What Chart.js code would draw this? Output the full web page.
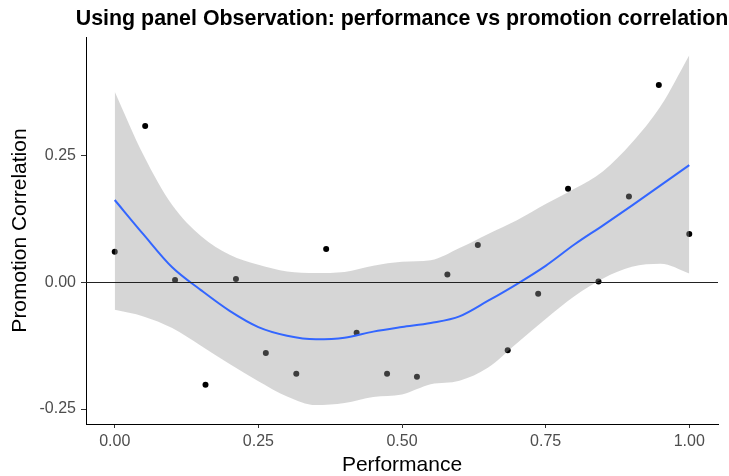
<!DOCTYPE html>
<html>
<head>
<meta charset="utf-8">
<script src="https://cdn.jsdelivr.net/npm/chart.js@4/dist/chart.umd.min.js"></script>
<style>
html, body { margin: 0; padding: 0; background: #fff; }
</style>
</head>
<body>
<canvas id="grafico" width="729" height="476"></canvas>
<script>
// observed points
const performance = [0, 0.053, 0.105, 0.158, 0.211, 0.263, 0.316, 0.368, 0.421, 0.474,
    0.526, 0.579, 0.632, 0.684, 0.737, 0.789, 0.842, 0.895, 0.947, 1];
const promotionCorr = [0.061, 0.309, 0.005, -0.202, 0.007, -0.139, -0.180, 0.066, -0.099, -0.180,
    -0.186, 0.016, 0.074, -0.134, -0.022, 0.185, 0.002, 0.170, 0.390, 0.096];

// loess fit and its confidence band
const fitX = [0, 0.05, 0.1, 0.15, 0.2, 0.25, 0.3, 0.35, 0.4, 0.45, 0.5,
    0.55, 0.6, 0.65, 0.7, 0.75, 0.8, 0.85, 0.9, 0.95, 1];
const fitY = [0.163, 0.095, 0.030, -0.015, -0.056, -0.088, -0.105, -0.112, -0.109, -0.097, -0.088,
    -0.080, -0.067, -0.036, -0.003, 0.033, 0.075, 0.113, 0.152, 0.192, 0.232];
const bandHigh = [0.377, 0.252, 0.153, 0.092, 0.055, 0.035, 0.022, 0.019, 0.021, 0.033, 0.041,
    0.044, 0.068, 0.096, 0.123, 0.155, 0.185, 0.220, 0.276, 0.348, 0.449];
const bandLow = [-0.054, -0.067, -0.090, -0.125, -0.161, -0.195, -0.225, -0.242, -0.238, -0.226, -0.221,
    -0.201, -0.194, -0.168, -0.120, -0.072, -0.027, 0.008, 0.031, 0.037, 0.018];

const xTicks = [0, 0.25, 0.5, 0.75, 1];
const yTicks = [-0.25, 0, 0.25];
const xRange = [-0.05, 1.05];
const yRange = [-0.2795, 0.485];

const pts = (xs, ys) => xs.map((x, i) => ({ x: x, y: ys[i] }));
const fontFam = '"Liberation Sans", Arial, sans-serif';

// ggplot centres the title over the panel, not the canvas
const tituloPlugin = {
    id: 'tituloPainel',
    afterDraw(chart) {
        const { ctx, chartArea } = chart;
        ctx.save();
        ctx.font = 'bold 21.4px ' + fontFam;
        ctx.fillStyle = '#000';
        ctx.textAlign = 'center';
        ctx.textBaseline = 'alphabetic';
        ctx.fillText('Using panel Observation: performance vs promotion correlation',
            (chartArea.left + chartArea.right) / 2, 25);
        ctx.restore();
    }
};

const ctx = document.getElementById('grafico');
new Chart(ctx, {
    type: 'scatter',
    data: {
        datasets: [{
            type: 'line',
            data: pts(xRange, [0, 0]),
            borderColor: '#222',
            borderWidth: 1,
            pointRadius: 0,
            order: 1
        },
        {
            type: 'line',
            data: pts(fitX, fitY),
            borderColor: '#3366FF',
            borderWidth: 2,
            pointRadius: 0,
            cubicInterpolationMode: 'monotone',
            order: 2
        },
        {
            type: 'line',
            data: pts(fitX, bandHigh),
            borderWidth: 0,
            pointRadius: 0,
            cubicInterpolationMode: 'monotone',
            fill: '+1',
            backgroundColor: 'rgba(153,153,153,0.4)',
            order: 3
        },
        {
            type: 'line',
            data: pts(fitX, bandLow),
            borderWidth: 0,
            pointRadius: 0,
            cubicInterpolationMode: 'monotone',
            fill: false,
            order: 3
        },
        {
            data: pts(performance, promotionCorr),
            backgroundColor: '#000',
            borderWidth: 0,
            pointRadius: 3,
            order: 4
        }]
    },
    options: {
        responsive: false,
        animation: false,
        layout: { padding: { top: 37, right: 11, left: 0, bottom: 0 } },
        plugins: {
            legend: { display: false },
            tooltip: { enabled: false }
        },
        scales: {
            x: {
                type: 'linear',
                min: xRange[0],
                max: xRange[1],
                afterBuildTicks: s => { s.ticks = xTicks.map(v => ({ value: v })); },
                afterFit: s => { s.height = 52; },
                grid: { drawOnChartArea: false, drawTicks: true, tickLength: 4, tickColor: '#333' },
                border: { display: true, color: '#000', width: 1 },
                ticks: {
                    padding: 4,
                    color: '#4d4d4d',
                    font: { family: fontFam, size: 16 },
                    callback: v => v.toFixed(2)
                },
                title: {
                    display: true,
                    text: 'Performance',
                    color: '#000',
                    font: { family: fontFam, size: 21, lineHeight: 1 },
                    padding: { top: 0, bottom: 0 }
                }
            },
            y: {
                min: yRange[0],
                max: yRange[1],
                afterBuildTicks: s => { s.ticks = yTicks.map(v => ({ value: v })); },
                afterFit: s => { s.width = 86; },
                grid: { drawOnChartArea: false, drawTicks: true, tickLength: 5, tickColor: '#333' },
                border: { display: true, color: '#000', width: 1 },
                ticks: {
                    padding: 5,
                    color: '#4d4d4d',
                    font: { family: fontFam, size: 16 },
                    callback: v => v.toFixed(2)
                },
                title: {
                    display: true,
                    text: 'Promotion Correlation',
                    color: '#000',
                    font: { family: fontFam, size: 21, lineHeight: 1 },
                    padding: { top: 10, bottom: 0 }
                }
            }
        }
    },
    plugins: [tituloPlugin]
});
</script>
</body>
</html>
